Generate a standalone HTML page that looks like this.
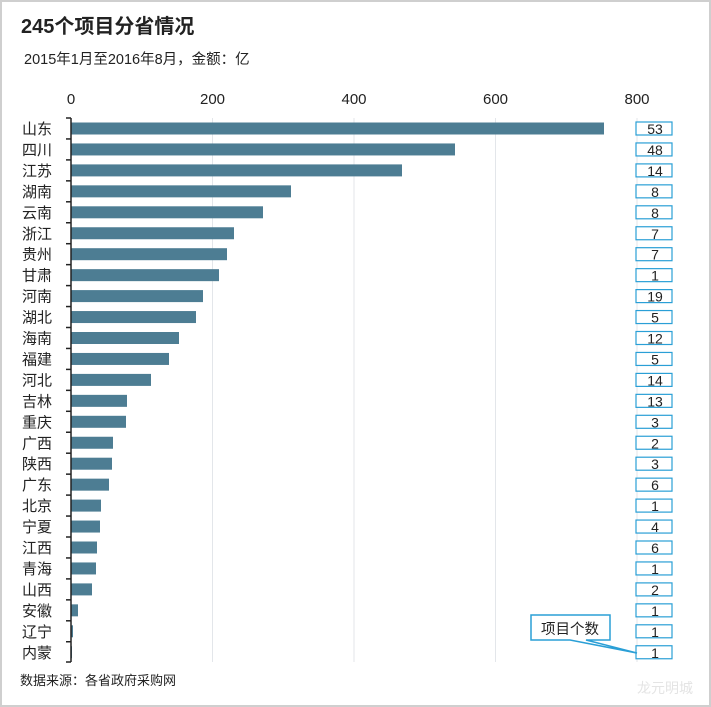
<!DOCTYPE html><html><head><meta charset="utf-8"><style>body{margin:0;background:#fff}svg{display:block}text{font-family:"Liberation Sans","Noto Sans CJK SC",sans-serif}</style></head><body>
<svg width="711" height="707" viewBox="0 0 711 707">
<rect x="1" y="1" width="709" height="705" fill="#fff" stroke="#cfcfcf" stroke-width="2"/>
<text x="21" y="33" font-size="20" font-weight="bold" fill="#222">245个项目分省情况</text>
<text x="24" y="64" font-size="14.5" fill="#222">2015年1月至2016年8月，金额：亿</text>
<g font-size="15" fill="#222" text-anchor="middle">
<text x="71" y="104">0</text><text x="212.5" y="104">200</text><text x="354" y="104">400</text><text x="495.5" y="104">600</text><text x="637" y="104">800</text></g>
<g stroke="#e3e6ea" stroke-width="1"><line x1="212.5" y1="118" x2="212.5" y2="662"/><line x1="354" y1="118" x2="354" y2="662"/><line x1="495.5" y1="118" x2="495.5" y2="662"/><line x1="637" y1="118" x2="637" y2="662"/></g>
<g id="bars"></g>
<line x1="71" y1="118" x2="71" y2="662" stroke="#222" stroke-width="1.5"/>
<g id="ticks" stroke="#222" stroke-width="1.5"></g>
<g id="labels" font-size="15" fill="#222"></g>
<g id="nums" font-size="14" fill="#222" text-anchor="middle"></g>
<path d="M531 615 H610 V640 H586 L637 653 L570 640 H531 Z" fill="#fff" stroke="#2a9fd6" stroke-width="1.5"/>
<text x="570" y="634" font-size="14.5" text-anchor="middle" fill="#222">项目个数</text>
<text x="665" y="693" font-size="14" text-anchor="middle" fill="#e4e4e4">龙元明城</text>
<text x="20" y="685" font-size="13" fill="#222">数据来源：各省政府采购网</text>
</svg>
<script>
var d=[["山东",604,53],["四川",455,48],["江苏",402,14],["湖南",291,8],["云南",263,8],["浙江",234,7],["贵州",227,7],["甘肃",219,1],["河南",203,19],["湖北",196,5],["海南",179,12],["福建",169,5],["河北",151,14],["吉林",127,13],["重庆",126,3],["广西",113,2],["陕西",112,3],["广东",109,6],["北京",101,1],["宁夏",100,4],["江西",97,6],["青海",96,1],["山西",92,2],["安徽",78,1],["辽宁",73,1],["内蒙",72,1]];
var ns="http://www.w3.org/2000/svg";function el(t,a,p,tx){var e=document.createElementNS(ns,t);for(var k in a)e.setAttribute(k,a[k]);if(tx)e.textContent=tx;document.getElementById(p).appendChild(e);}
d.forEach(function(r,i){var c=128.5+i*20.95;
el("rect",{x:71,y:c-6,width:r[1]-71,height:12,fill:"#4d7d93"},"bars");
el("text",{x:22,y:c+5.5},"labels",r[0]);
el("line",{x1:66,y1:c-10.5,x2:71,y2:c-10.5},"ticks");
el("rect",{x:636,y:c-6.5,width:36,height:13,fill:"#fff",stroke:"#2a9fd6","stroke-width":1.2},"nums");
el("text",{x:655,y:c+5.5},"nums",r[2]);});
el("line",{x1:66,y1:662,x2:71,y2:662},"ticks");
</script>
</body></html>
